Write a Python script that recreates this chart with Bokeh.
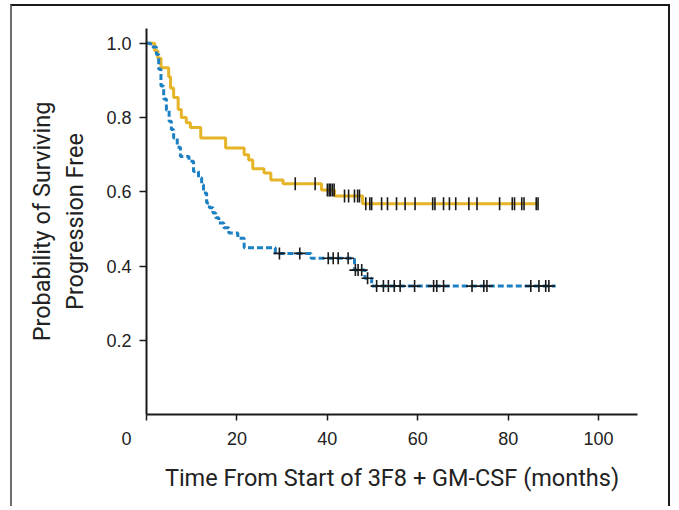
import numpy as np
from bokeh.plotting import figure
from bokeh.models import FixedTicker, PrintfTickFormatter
from bokeh.embed import file_html
from bokeh.resources import INLINE

# Yellow curve (solid): event times (months) and survival levels
yellow_t = [0, 1.8, 2.5, 3.2, 4.9, 5.3, 6.0, 7.0, 7.7, 8.8, 9.7, 12.0, 17.5, 21.6, 22.6,
            23.5, 26.0, 27.5, 30.2, 38.7, 41.6, 47.8, 86.7]
yellow_s = [1.0, 0.98, 0.96, 0.934, 0.91, 0.88, 0.854, 0.822, 0.80, 0.786, 0.773, 0.745,
            0.718, 0.70, 0.686, 0.662, 0.651, 0.632, 0.622, 0.605, 0.589, 0.568, 0.568]
yellow_censor = [32.9, 37.3, 40.0, 40.4, 40.7, 41.1, 41.5, 43.8, 44.7, 46.0, 46.7, 47.1,
                 48.5, 49.4, 49.8, 52.0, 53.3, 55.3, 57.2, 59.4, 63.3, 63.8, 65.7, 67.0,
                 68.4, 71.3, 73.1, 78.1, 80.9, 81.4, 83.0, 83.5, 86.2, 86.6]

# Blue curve (dotted)
blue_t = [0, 0.9, 2.2, 2.7, 3.2, 3.8, 4.4, 5.0, 5.5, 6.0, 6.8, 7.5, 9.4, 10.4, 11.5, 12.2,
          12.6, 13.3, 13.9, 14.7, 15.3, 16.0, 17.1, 18.2, 20.2, 21.6, 28.5, 36.4, 46.0,
          48.3, 49.8, 90.5]
blue_s = [1.0, 0.99, 0.97, 0.93, 0.885, 0.85, 0.82, 0.79, 0.768, 0.745, 0.72, 0.695, 0.682,
          0.655, 0.638, 0.619, 0.597, 0.57, 0.557, 0.543, 0.53, 0.516, 0.503, 0.489, 0.475,
          0.449, 0.434, 0.421, 0.389, 0.367, 0.346, 0.346]
blue_censor = [29.4, 33.9, 40.2, 41.3, 42.4, 44.6, 46.2, 46.8, 47.6, 48.9, 50.9, 52.4, 53.5,
               54.8, 56.1, 59.3, 63.5, 64.2, 65.7, 72.0, 74.6, 75.3, 85.0, 86.8, 88.3, 89.0]

x_ticks = [0, 20, 40, 60, 80, 100]
y_ticks = [0.2, 0.4, 0.6, 0.8, 1.0]
x_title = "Time From Start of 3F8 + GM-CSF (months)"
y_title = "Probability of Surviving\nProgression Free"

YELLOW = "#E6B427"
BLUE = "#1C80C3"
TICK_FONT = "Liberation Sans"
TITLE_FONT = "Roboto"


def level_at(ts, ss, times):
    ts = np.asarray(ts)
    ss = np.asarray(ss)
    idx = np.searchsorted(ts, np.asarray(times), side="right") - 1
    return ss[idx]


p = figure(width=660, height=502, x_range=(0, 108.6), y_range=(0, 1.04),
           output_backend="svg", toolbar_location=None,
           min_border_left=134, min_border_right=35, min_border_top=22, min_border_bottom=94)
p.styles = {"margin-left": "10px", "margin-top": "4px",
            "border-top": "2px solid #1a1a1a", "border-left": "2px solid #6e6e6e",
            "border-right": "2px solid #1a1a1a"}
p.outline_line_color = None
p.xgrid.visible = False
p.ygrid.visible = False
p.background_fill_color = "white"
p.border_fill_color = "white"

for ax in (p.xaxis[0], p.yaxis[0]):
    ax.axis_line_width = 2
    ax.axis_line_color = "#1a1a1a"
    ax.major_tick_line_color = "#1a1a1a"
    ax.major_tick_line_width = 1.5
    ax.major_tick_in = 0
    ax.minor_tick_line_color = None
    ax.major_label_text_font = TICK_FONT
    ax.major_label_text_font_size = "18px"
    ax.major_label_text_color = "#222222"
    ax.axis_label_text_font = TITLE_FONT
    ax.axis_label_text_font_size = "23.5px"
    ax.axis_label_text_font_style = "normal"
    ax.axis_label_text_color = "#222222"
    ax.axis_label_text_line_height = 1.2

p.xaxis.ticker = FixedTicker(ticks=x_ticks)
p.yaxis.ticker = FixedTicker(ticks=y_ticks)
p.xaxis.major_label_overrides = {0: "0" + "\u00a0" * 8}
p.xaxis.major_tick_out = 6
p.yaxis.major_tick_out = 7
p.xaxis.major_label_standoff = 8
p.yaxis.major_label_standoff = 8
p.yaxis.formatter = PrintfTickFormatter(format="%.1f")
p.xaxis.axis_label = x_title
p.yaxis.axis_label = y_title
p.xaxis.axis_label_standoff = 12
p.yaxis.axis_label_standoff = 14

# curves
p.step(yellow_t, yellow_s, mode="after", line_color=YELLOW, line_width=3)
p.step(blue_t, blue_s, mode="after", line_color=BLUE, line_width=3, line_dash="6 3")

# censor marks
p.scatter(yellow_censor, level_at(yellow_t, yellow_s, yellow_censor), marker="dash",
          angle=np.pi / 2, size=13, line_color="#1a1a1a", line_width=1.6)
p.scatter(blue_censor, level_at(blue_t, blue_s, blue_censor), marker="cross",
          size=12, line_color="#1a1a1a", line_width=1.6)

open("out.html", "w").write(file_html(p, INLINE))
